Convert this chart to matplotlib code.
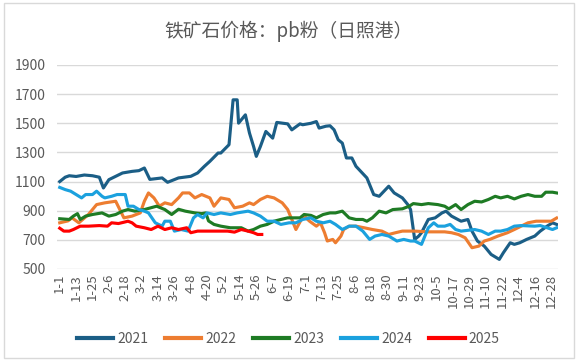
import matplotlib
matplotlib.use("Agg")
import matplotlib.pyplot as plt
from matplotlib.patches import Rectangle

plt.rcParams['font.family'] = ['Noto Sans CJK SC', 'DejaVu Sans']

# day index within the year (category axis), value
x2021 = [0, 4, 7, 12, 18, 24, 29, 32, 36, 46, 53, 58, 62, 66, 75, 79, 87, 96, 101, 106,
         110, 116, 118, 124, 127, 130, 131, 136, 139, 142, 144, 147, 151, 156, 159, 167,
         170, 176, 178, 184, 188, 190, 195, 198, 201, 204, 207, 210, 214, 217, 225, 230,
         234, 241, 245, 251, 255, 257, 260, 263, 265, 270, 275, 280, 283, 287, 294, 299,
         302, 306, 311, 316, 322, 325, 330, 333, 337, 342, 348, 352, 357, 361, 364]
y2021 = [1100, 1130, 1140, 1135, 1145, 1140, 1130, 1056, 1113, 1159, 1170, 1175, 1193, 1115,
         1125, 1095, 1125, 1136, 1159, 1205, 1239, 1296, 1296, 1353, 1661, 1661, 1501, 1558,
         1433, 1341, 1273, 1341, 1444, 1398, 1506, 1496, 1455, 1496, 1490, 1500, 1512, 1467,
         1480, 1483, 1455, 1387, 1364, 1262, 1262, 1205, 1125, 1011, 999, 1068, 1022, 988,
         942, 908, 703, 726, 749, 840, 851, 885, 897, 863, 828, 840, 760, 692, 657, 600, 566,
         612, 680, 669, 680, 703, 726, 760, 794, 817, 806]

x2022 = [0, 6, 9, 14, 21, 27, 33, 41, 44, 47, 53, 59, 62, 65, 69, 73, 77, 82, 87, 90, 95,
         99, 104, 110, 113, 118, 124, 128, 134, 139, 142, 147, 152, 157, 163, 167, 170, 173,
         177, 179, 183, 188, 191, 194, 196, 200, 202, 206, 208, 212, 217, 223, 229, 236, 241,
         246, 251, 260, 270, 282, 287, 292, 297, 302, 307, 311, 315, 321, 328, 333, 338, 343,
         349, 360, 364]
y2022 = [817, 830, 851, 817, 874, 942, 954, 965, 908, 851, 863, 885, 965, 1022, 988, 931, 954,
         942, 988, 1022, 1022, 988, 1011, 988, 931, 988, 977, 920, 931, 954, 942, 977, 999, 988,
         954, 908, 840, 771, 840, 863, 828, 794, 817, 749, 692, 703, 680, 726, 771, 794, 794,
         783, 771, 760, 737, 749, 760, 760, 755, 755, 749, 737, 714, 646, 657, 692, 703, 726,
         749, 771, 794, 817, 828, 828, 850]

x2023 = [0, 7, 10, 13, 15, 19, 24, 31, 36, 41, 46, 50, 55, 62, 71, 77, 82, 87, 92, 99, 104,
         107, 109, 113, 118, 125, 133, 138, 142, 147, 152, 157, 162, 167, 176, 179, 184, 188,
         193, 198, 202, 207, 212, 217, 222, 225, 229, 234, 239, 244, 251, 256, 259, 265, 270,
         277, 282, 285, 290, 294, 299, 304, 309, 314, 319, 323, 328, 333, 338, 343, 348, 353,
         356, 361, 364]
y2023 = [845, 840, 863, 880, 840, 863, 874, 885, 863, 874, 897, 908, 897, 908, 931, 908, 874,
         910, 897, 885, 880, 885, 830, 806, 794, 783, 783, 760, 771, 794, 806, 828, 840, 851,
         851, 874, 868, 851, 874, 885, 885, 897, 851, 840, 840, 828, 851, 897, 885, 908, 913,
         931, 949, 942, 949, 942, 931, 913, 942, 908, 942, 965, 960, 977, 999, 988, 999, 981,
         999, 1011, 999, 999, 1027, 1027, 1022]

x2024 = [0, 4, 8, 12, 16, 19, 24, 27, 31, 33, 38, 42, 48, 50, 54, 58, 62, 65, 70, 75, 77, 81,
         84, 89, 94, 98, 101, 105, 108, 113, 118, 125, 130, 138, 142, 147, 152, 157, 162, 168,
         173, 178, 184, 188, 193, 198, 202, 207, 212, 217, 222, 227, 231, 236, 241, 247, 252,
         257, 260, 265, 270, 274, 277, 282, 286, 290, 294, 304, 309, 314, 319, 323, 328, 333,
         338, 348, 352, 357, 361, 364]
y2024 = [1060, 1045, 1034, 1011, 988, 1011, 1011, 1034, 999, 988, 999, 1011, 1011, 931, 931,
         908, 897, 885, 817, 794, 828, 828, 760, 771, 760, 851, 874, 851, 885, 874, 885, 874,
         885, 897, 885, 863, 828, 828, 806, 817, 817, 840, 851, 828, 817, 828, 806, 771, 794,
         794, 760, 703, 726, 737, 726, 692, 703, 692, 692, 669, 783, 817, 794, 794, 806, 771,
         760, 771, 760, 737, 760, 760, 771, 794, 798, 794, 798, 783, 771, 783]

x2025 = [0, 3, 7, 10, 15, 21, 29, 35, 38, 43, 47, 50, 53, 56, 62, 67, 72, 77, 82, 87, 93, 96,
         101, 111, 123, 128, 133, 138, 142, 145, 148]
y2025 = [780, 760, 760, 771, 794, 794, 798, 794, 817, 812, 821, 828, 817, 794, 783, 771, 794,
         771, 783, 771, 783, 749, 760, 760, 760, 753, 771, 760, 749, 737, 737]

tick_labels = ['1-1', '1-13', '1-25', '2-6', '2-18', '3-2', '3-14', '3-26', '4-8', '4-20',
               '5-2', '5-14', '5-26', '6-7', '6-19', '7-1', '7-13', '7-25', '8-6', '8-18',
               '8-30', '9-11', '9-23', '10-5', '10-17', '10-29', '11-10', '11-22', '12-4',
               '12-16', '12-28']

series = [('2021', x2021, y2021, '#1B5E86'),
          ('2022', x2022, y2022, '#ED7D31'),
          ('2023', x2023, y2023, '#1E7B24'),
          ('2024', x2024, y2024, '#1BA1DE'),
          ('2025', x2025, y2025, '#FF0000')]

fig = plt.figure(figsize=(5.77, 3.61), dpi=100)
fig.patches.append(Rectangle((4 / 577, 3 / 361), 570 / 577, 355 / 361, transform=fig.transFigure,
                             fill=False, edgecolor='#D9D9D9', linewidth=1))
ax = fig.add_axes([57 / 577, 1 - 269 / 361, 501 / 577, 204 / 361])

for name, xs, ys, c in series:
    ax.plot(xs, ys, color=c, lw=2.25, label=name, solid_joinstyle='round')

ax.set_ylim(500, 1900)
ax.set_yticks(range(500, 2000, 200))
ax.set_xlim(-2, 365)
ax.set_xticks(range(0, 361, 12))
ax.set_xticklabels(tick_labels, rotation=90)
ax.grid(axis='y', color='#D9D9D9', lw=1)
ax.set_axisbelow(True)
for s in ax.spines.values():
    s.set_visible(False)
ax.tick_params(length=0, colors='#595959', labelsize=9.5)
ax.tick_params(axis='y', pad=8, labelsize=10)

fig.text(0.5, 1 - 31 / 361, '铁矿石价格：pb粉（日照港）', ha='center', va='center',
         fontsize=13.5, color='#595959')

leg = fig.legend(loc='center', bbox_to_anchor=(0.5, 1 - 339 / 361), ncol=5, frameon=False,
                 fontsize=10, labelcolor='#595959', handlelength=2.6, columnspacing=1.2,
                 handletextpad=0.3)
for h in leg.get_lines():
    h.set_linewidth(3)

fig.savefig('out.png', dpi=100)
